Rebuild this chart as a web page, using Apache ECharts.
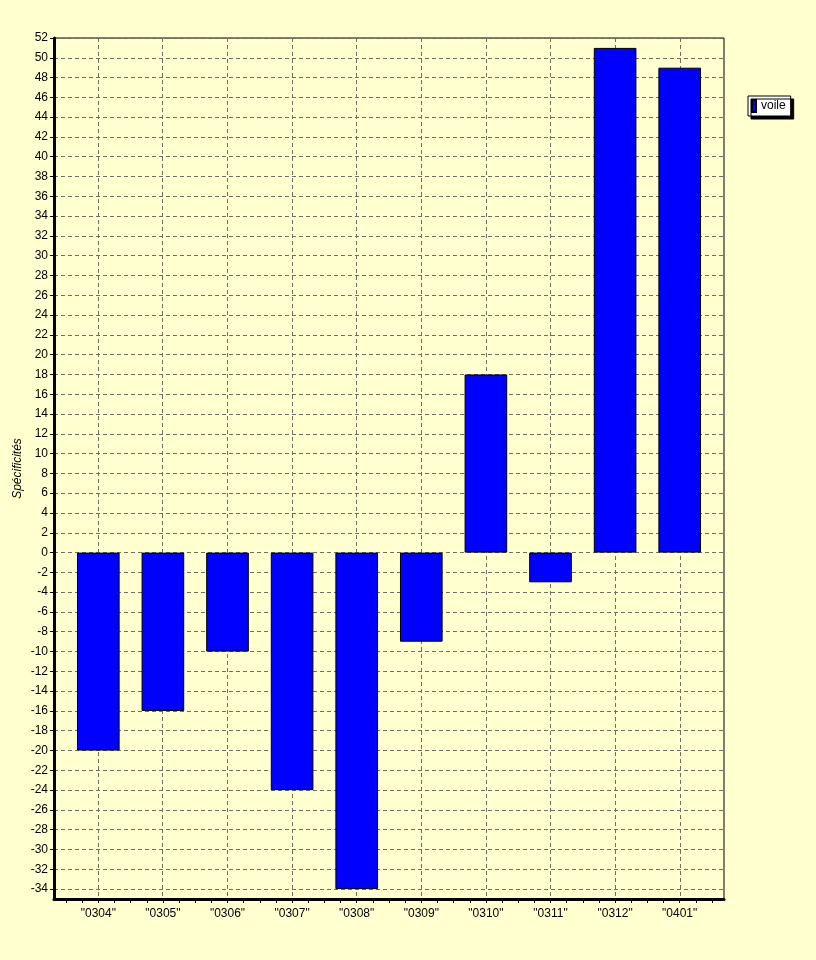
<!DOCTYPE html>
<html>
<head>
<meta charset="utf-8">
<script src="https://cdn.jsdelivr.net/npm/echarts@6/dist/echarts.min.js"></script>
<style>
html,body{margin:0;padding:0;background:#FFFFD0;}
#c{width:816px;height:960px;}
</style>
</head>
<body>
<div id="c"></div>
<script>
const categories = ['"0304"','"0305"','"0306"','"0307"','"0308"','"0309"','"0310"','"0311"','"0312"','"0401"'];
const values = [-20, -16, -10, -24, -34, -9, 18, -3, 51, 49];
const seriesName = 'voile';
const yAxisTitle = 'Spécificités';
const yMin = -34, yMax = 52, yStep = 2;
const yFrameMin = -35;

const FONT = 'Liberation Sans, Arial, sans-serif';
const chart = echarts.init(document.getElementById('c'), null, {renderer: 'canvas'});
const hidden = {show: false};
const option = {
  backgroundColor: '#FFFFD0',
  animation: false,
  textStyle: {fontFamily: FONT},
  grid: [
    // frame
    {left: 54, right: 92, top: 38, bottom: 61, show: true, borderColor: '#000', borderWidth: 1, backgroundColor: 'transparent'},
    // bars
    {left: 66, right: 104, top: 38, bottom: 61},
    // horizontal grid + labels
    {left: 54, right: 92, top: 38, bottom: 71},
    // vertical grid lines at category centres
    {left: 98, right: 136, top: 38, bottom: 61}
  ],
  xAxis: [
    {gridIndex: 0, type: 'value', min: 0, max: 1, position: 'bottom',
     axisLine: {show: true, onZero: false, lineStyle: {color: '#000', width: 3}},
     axisTick: hidden, axisLabel: hidden, splitLine: hidden},
    {gridIndex: 1, type: 'category', data: categories, position: 'bottom',
     axisLine: {show: false, onZero: false}, axisTick: hidden, splitLine: hidden,
     axisLabel: {show: true, color: '#000', fontSize: 12, fontFamily: FONT, margin: 9, interval: 0}},
    {gridIndex: 1, type: 'value', min: 0, max: categories.length, interval: 1, position: 'bottom',
     axisLine: {show: false, onZero: false},
     axisTick: {show: true, inside: false, length: 4, lineStyle: {color: '#000'}},
     minorTick: {show: true, splitNumber: 4, length: 4, lineStyle: {color: '#000'}},
     axisLabel: hidden, splitLine: hidden},
    {gridIndex: 2, type: 'value', min: 0, max: 1, axisLine: hidden, axisTick: hidden, axisLabel: hidden, splitLine: hidden},
    {gridIndex: 3, type: 'value', min: 0, max: categories.length - 1, interval: 1,
     axisLine: hidden, axisTick: hidden, axisLabel: hidden,
     splitLine: {show: true, lineStyle: {color: '#707060', type: [4, 3], width: 1}}}
  ],
  yAxis: [
    {gridIndex: 0, type: 'value', min: yFrameMin, max: yMax,
     axisLine: {show: true, onZero: false, lineStyle: {color: '#000', width: 3}},
     axisTick: hidden, axisLabel: hidden, splitLine: hidden,
     name: yAxisTitle, nameLocation: 'middle', nameRotate: 90, nameGap: 30,
     nameTextStyle: {color: '#000', fontSize: 12, fontStyle: 'italic', fontFamily: FONT}},
    {gridIndex: 1, type: 'value', min: yFrameMin, max: yMax, show: false},
    {gridIndex: 2, type: 'value', min: yMin, max: yMax, interval: yStep,
     axisLine: {show: false, onZero: false},
     axisTick: {show: true, length: 4, lineStyle: {color: '#000'}},
     axisLabel: {show: true, color: '#000', fontSize: 12, fontFamily: FONT, margin: 6},
     splitLine: {show: true, lineStyle: {color: '#707060', type: [4, 3], width: 1}}},
    {gridIndex: 3, type: 'value', min: 0, max: 1, show: false}
  ],
  legend: {
    show: true, left: 748, top: 96, orient: 'vertical',
    data: [{name: seriesName, icon: 'rect'}],
    itemWidth: 4, itemHeight: 12, itemGap: 0,
    padding: [3, 5, 3, 3],
    backgroundColor: '#FFFFFF', borderColor: '#000', borderWidth: 1,
    shadowColor: '#000', shadowOffsetX: 3, shadowOffsetY: 3, shadowBlur: 0,
    textStyle: {color: '#000', fontSize: 12, fontFamily: FONT, lineHeight: 13}
  },
  series: [{
    name: seriesName, type: 'bar', xAxisIndex: 1, yAxisIndex: 1,
    data: values, barWidth: '66%',
    itemStyle: {color: '#0000FF', borderColor: '#000', borderWidth: 1}
  }]
};
chart.setOption(option);
</script>
</body>
</html>
